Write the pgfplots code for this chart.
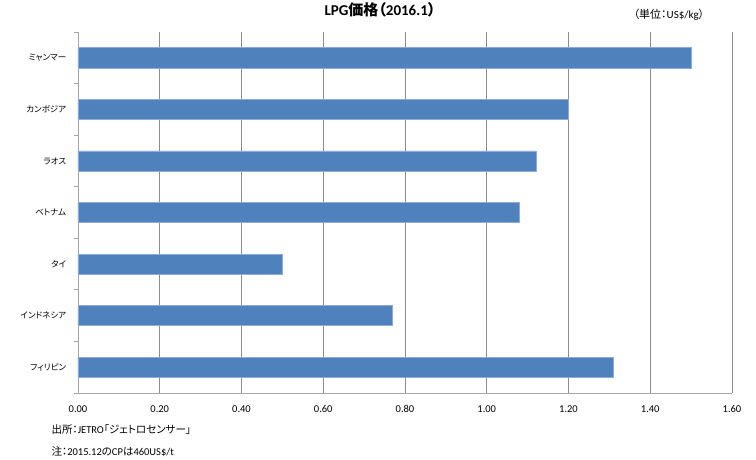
\documentclass[border=0pt]{standalone}
\usepackage{fontspec}
\setmainfont{Carlito}
\newfontfamily\jp[RawFeature={+palt}]{Noto Sans CJK JP}
\usepackage{pgfplots}
\pgfplotsset{compat=1.18}
\definecolor{barblue}{HTML}{4F81BD}
\definecolor{baredge}{HTML}{8EAADB}
\definecolor{gridgray}{HTML}{8C8C8C}
\definecolor{axgray}{HTML}{A6A6A6}
\begin{document}
\begin{tikzpicture}
\path[use as bounding box] (0pt,0pt) rectangle (756pt,459pt);
\begin{axis}[
  at={(78pt,66pt)}, anchor=south west,
  scale only axis, width=654pt, height=361pt,
  xbar, bar width=0.39, bar shift=0pt,
  xmin=0, xmax=1.6, ymin=-0.5, ymax=6.5,
  xtick={0,0.2,0.4,0.6,0.8,1.0,1.2,1.4,1.6},
  xticklabel style={font=\fontsize{10.5}{12}\selectfont, yshift=-5pt},
  /pgf/number format/.cd, fixed, fixed zerofill, precision=2, assume math mode=true, /pgfplots/.cd,
  xmajorgrids, major grid style={gridgray, line width=0.8pt},
  axis x line*=bottom, axis y line*=left,
  x axis line style={axgray,-, line width=0.8pt}, y axis line style={axgray,-, line width=0.8pt},
  major x tick style={draw=none},
  ytick={0,1,2,3,4,5,6},
  yticklabels={フィリピン,インドネシア,タイ,ベトナム,ラオス,カンボジア,ミャンマー},
  yticklabel style={font=\jp\fontsize{8.5}{10}\selectfont, xshift=-4pt},
  major y tick style={draw=none},
  minor ytick={-0.5,0.5,1.5,2.5,3.5,4.5,5.5,6.5},
  minor tick length=4pt, tick align=outside,
  minor y tick style={axgray, line width=0.8pt},
]
\addplot[fill=barblue, draw=baredge, line width=0.6pt] coordinates {(1.31,0) (0.77,1) (0.50,2) (1.08,3) (1.12,4) (1.20,5) (1.50,6)};
\end{axis}
\node[font=\bfseries\fontsize{15}{17}\selectfont] at (380pt,449pt) {LPG{\jp 価格（}2016.1{\jp ）}};
\node[font=\fontsize{11}{13}\selectfont] at (669pt,444pt) {{\jp （単位：}US\$/kg{\jp ）}};
\node[font=\fontsize{10.5}{12}\selectfont, anchor=west] at (48pt,29pt) {{\jp 出所：}JETRO{\jp 「ジェトロセンサー」}};
\node[font=\fontsize{10.5}{12}\selectfont, anchor=west] at (48pt,7pt) {{\jp 注：}2015.12{\jp の}CP{\jp は}460US\$/t};
\end{tikzpicture}
\end{document}
